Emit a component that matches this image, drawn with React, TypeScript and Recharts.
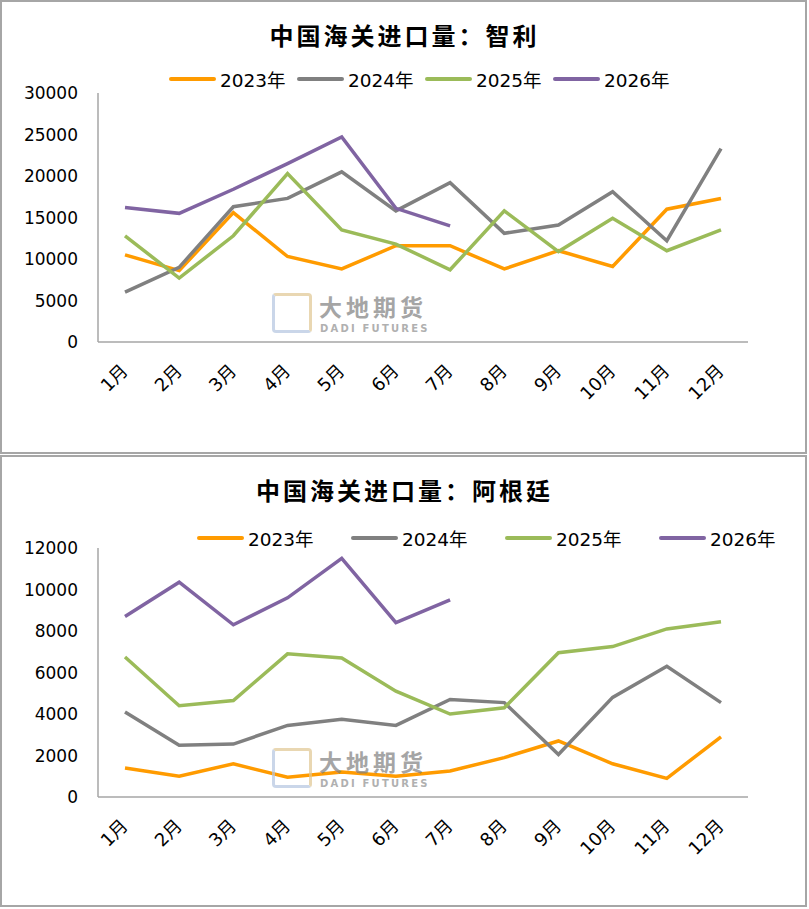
import React from "react";
import { LineChart, Line, XAxis, YAxis } from "recharts";

const months = ["1月", "2月", "3月", "4月", "5月", "6月", "7月", "8月", "9月", "10月", "11月", "12月"];
const years = ["2023年", "2024年", "2025年", "2026年"];
const colors = ["#FF9B00", "#808080", "#9BBB59", "#8064A2"];

// 智利
const chile2023 = [10500, 8600, 15600, 10300, 8800, 11600, 11600, 8800, 11000, 9100, 16000, 17300];
const chile2024 = [6000, 9000, 16300, 17300, 20500, 15800, 19200, 13100, 14100, 18100, 12200, 23300];
const chile2025 = [12800, 7700, 12800, 20300, 13500, 11800, 8700, 15800, 10900, 14900, 11000, 13500];
const chile2026 = [16200, 15500, 18400, 21500, 24700, 16100, 14000];
const chileTicks = [0, 5000, 10000, 15000, 20000, 25000, 30000];

// 阿根廷
const arg2023 = [1400, 1000, 1600, 950, 1200, 1000, 1250, 1900, 2700, 1600, 900, 2900];
const arg2024 = [4100, 2500, 2550, 3450, 3750, 3450, 4700, 4550, 2050, 4800, 6300, 4550];
const arg2025 = [6750, 4400, 4650, 6900, 6700, 5100, 4000, 4300, 6950, 7250, 8100, 8450];
const arg2026 = [8700, 10350, 8300, 9600, 11500, 8400, 9500];
const argTicks = [0, 2000, 4000, 6000, 8000, 10000, 12000];

const keys = ["y2023", "y2024", "y2025", "y2026"];
const font = "'DejaVu Sans', 'Noto Sans CJK SC', sans-serif";

function buildRows(series: number[][]) {
  return months.map((m, i) => {
    const row: any = { month: m };
    series.forEach((s, k) => {
      row[keys[k]] = s[i];
    });
    return row;
  });
}

function XTick({ x, y, payload }: any) {
  const ax = x + 4;
  const ay = y + 30;
  return (
    <text
      x={ax}
      y={ay}
      transform={`rotate(-45, ${ax}, ${ay})`}
      textAnchor="end"
      fontSize={18}
      fontFamily={font}
      fill="#000"
    >
      {payload.value}
    </text>
  );
}

function YTick({ x, y, payload }: any) {
  return (
    <text
      x={x - 20}
      y={y}
      textAnchor="end"
      dominantBaseline="central"
      fontSize={17}
      fontFamily={font}
      fill="#000"
    >
      {payload.value}
    </text>
  );
}

function Watermark() {
  return (
    <div style={{ position: "absolute", left: 272, top: 293, opacity: 0.7, pointerEvents: "none" }}>
      <div
        style={{
          position: "absolute",
          left: 0,
          top: 0,
          width: 34,
          height: 34,
          borderTop: "3px solid #E0C792",
          borderRight: "3px solid #E0C792",
          borderLeft: "3px solid #B5C6E0",
          borderBottom: "3px solid #B5C6E0",
          borderRadius: 4,
        }}
      />
      <div
        style={{
          position: "absolute",
          left: 47,
          top: 2,
          fontFamily: "'Noto Sans CJK SC', sans-serif",
          fontWeight: 700,
          fontSize: 23,
          lineHeight: "23px",
          letterSpacing: 4,
          color: "#7F7F7F",
          whiteSpace: "nowrap",
        }}
      >
        大地期货
      </div>
      <div
        style={{
          position: "absolute",
          left: 48,
          top: 31,
          fontFamily: "'DejaVu Sans', sans-serif",
          fontWeight: 700,
          fontSize: 10,
          lineHeight: "10px",
          letterSpacing: 2.2,
          color: "#8F8F8F",
          whiteSpace: "nowrap",
        }}
      >
        DADI FUTURES
      </div>
    </div>
  );
}

interface PanelProps {
  top: number;
  height: number;
  title: string;
  series: number[][];
  ticks: number[];
  legendX: number;
  legendPitch: number;
  legendY: number;
}

function Panel({ top, height, title, series, ticks, legendX, legendPitch, legendY }: PanelProps) {
  const data = buildRows(series);
  return (
    <div style={{ position: "absolute", left: 0, top, width: 809, height }}>
      <div
        style={{
          position: "absolute",
          left: 0,
          top: 0,
          width: 807,
          height,
          border: "2px solid #A6A6A6",
          boxSizing: "border-box",
        }}
      />
      <div
        style={{
          position: "absolute",
          left: 0,
          top: 20,
          width: 809,
          textAlign: "center",
          fontFamily: "'Noto Sans CJK SC', serif",
          fontWeight: 600,
          fontSize: 24,
          lineHeight: "30px",
          letterSpacing: 3,
          color: "#000",
        }}
      >
        {title}
      </div>
      {years.map((yr, k) => (
        <div
          key={yr}
          style={{
            position: "absolute",
            left: legendX + k * legendPitch,
            top: legendY - 12,
            height: 24,
            display: "flex",
            alignItems: "center",
            whiteSpace: "nowrap",
          }}
        >
          <div style={{ width: 47, height: 4, borderRadius: 2, background: colors[k] }} />
          <span
            style={{
              marginLeft: 4,
              fontFamily: font,
              fontSize: 18.5,
              color: "#000",
            }}
          >
            {yr}
          </span>
        </div>
      ))}
      <div style={{ position: "absolute", left: 0, top: 0 }}>
        <LineChart
          width={809}
          height={height}
          data={data}
          margin={{ top: 93, right: 61, bottom: height - 342 - 60, left: 0 }}
        >
          <XAxis
            dataKey="month"
            interval={0}
            tickLine={false}
            tickSize={0}
            tickMargin={0}
            height={60}
            padding={{ left: 27, right: 27 }}
            axisLine={{ stroke: "#A6A6A6", strokeWidth: 1.5 }}
            tick={<XTick />}
          />
          <YAxis
            width={98}
            domain={[ticks[0], ticks[ticks.length - 1]]}
            ticks={ticks}
            interval={0}
            tickLine={false}
            tickSize={0}
            tickMargin={0}
            axisLine={{ stroke: "#A6A6A6", strokeWidth: 1.5 }}
            tick={<YTick />}
          />
          {keys.map((k, i) => (
            <Line
              key={k}
              type="linear"
              dataKey={k}
              stroke={colors[i]}
              strokeWidth={3.5}
              dot={false}
              activeDot={false}
              isAnimationActive={false}
            />
          ))}
        </LineChart>
      </div>
      <Watermark />
    </div>
  );
}

export default function App() {
  return (
    <div style={{ position: "absolute", left: 0, top: 0, width: 809, height: 909, background: "#fff" }}>
      <Panel
        top={0}
        height={454}
        title="中国海关进口量：智利"
        series={[chile2023, chile2024, chile2025, chile2026]}
        ticks={chileTicks}
        legendX={169}
        legendPitch={128}
        legendY={79}
      />
      <Panel
        top={455}
        height={452}
        title="中国海关进口量：阿根廷"
        series={[arg2023, arg2024, arg2025, arg2026]}
        ticks={argTicks}
        legendX={197}
        legendPitch={154}
        legendY={83}
      />
    </div>
  );
}
